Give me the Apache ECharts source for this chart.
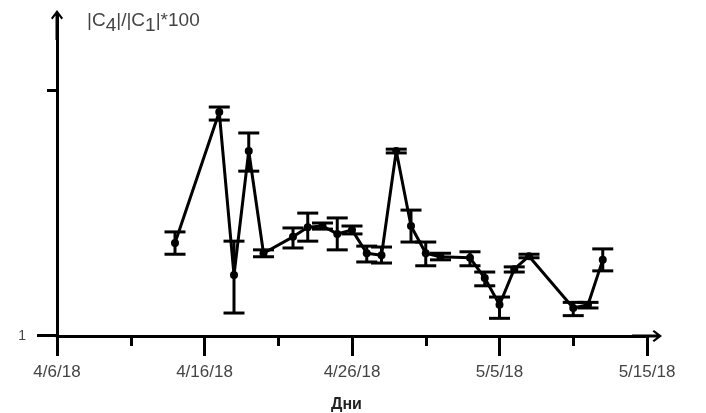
<!DOCTYPE html>
<html>
<head>
<meta charset="utf-8">
<script src="https://cdn.jsdelivr.net/npm/echarts@6/dist/echarts.min.js"></script>
<style>html,body{margin:0;padding:0;background:#fff}#c{width:706px;height:413px}</style>
</head>
<body>
<div id="c"></div>
<script>
// day number counted from 4/6/18 (day 0)
var days     = [8, 11, 12, 13, 14, 16, 17, 18, 19, 20, 21, 22, 23, 24, 25, 26, 28, 29, 30, 31, 32, 35, 36, 37];
var values   = [2.39, 8.14, 1.77, 5.65, 2.17, 2.53, 2.77, 2.80, 2.60, 2.70, 2.17, 2.13, 5.65, 2.80, 2.17, 2.10, 2.08, 1.72, 1.34, 1.87, 2.11, 1.30, 1.34, 2.04];
var errHigh  = [2.65, 8.53, 2.43, 6.69, 2.24, 2.75, 3.16, 2.88, 3.02, 2.80, 2.32, 2.30, 5.75, 3.25, 2.41, 2.17, 2.20, 1.82, 1.44, 1.91, 2.15, 1.37, 1.37, 2.26];
var errLow   = [2.15, 7.55, 1.24, 4.68, 2.10, 2.28, 2.43, 2.72, 2.24, 2.60, 2.00, 1.98, 5.55, 2.41, 1.93, 2.04, 1.93, 1.60, 1.18, 1.82, 2.08, 1.21, 1.30, 1.84];
var xTickLabels = ['4/6/18', '4/16/18', '4/26/18', '5/5/18', '5/15/18'];
var yTickLabels = ['1'];

var arrow = 'path://M6,0 L12,8 L10.5,9.5 L7.5,5.5 L7.5,30 L4.5,30 L4.5,5.5 L1.5,9.5 L0,8 Z';
var lineData = days.map(function (d, i) { return [d, values[i]]; });
var errData = days.map(function (d, i) { return [d, errLow[i], errHigh[i]]; });

var chart = echarts.init(document.getElementById('c'));
chart.setOption({
  animation: false,
  backgroundColor: '#fff',
  title: [
    {
      text: '|C{s|4}|/|C{s|1}|*100',
      left: 82, top: 2,
      textStyle: {
        fontFamily: 'Liberation Sans', fontSize: 19, fontWeight: 'normal', color: '#444',
        rich: { s: { fontFamily: 'Liberation Sans', fontSize: 19, color: '#444', padding: [9, 0, 0, 0] } }
      }
    },
    {
      text: 'Дни',
      left: 326, top: 392,
      textStyle: { fontFamily: 'Liberation Sans', fontSize: 16, fontWeight: 'bold', color: '#222' }
    }
  ],
  grid: { left: 57, right: 59, top: 16, bottom: 77, containLabel: false },
  xAxis: {
    type: 'value', min: 0, max: 40, interval: 10,
    axisLine: { show: true, lineStyle: { color: '#000', width: 3 }, symbol: ['none', arrow], symbolSize: [12, 30], symbolOffset: [0, 0] },
    axisTick: { show: true, length: 20, lineStyle: { color: '#000', width: 3 } },
    minorTick: { show: true, splitNumber: 2, length: 10, lineStyle: { color: '#000', width: 3 } },
    splitLine: { show: false },
    axisLabel: {
      margin: 28, fontFamily: 'Liberation Sans', fontSize: 17, color: '#444',
      formatter: function (v) { return xTickLabels[Math.round(v / 10)] || ''; }
    }
  },
  yAxis: [
    {
      type: 'log', logBase: 10, min: 1, max: 20,
      axisLine: { show: true, lineStyle: { color: '#000', width: 3 }, symbol: ['none', arrow], symbolSize: [12, 30], symbolOffset: [0, -9] },
      axisTick: { show: true, length: 10, customValues: [10], lineStyle: { color: '#000', width: 3 } },
      axisLabel: { show: false },
      splitLine: { show: false },
      minorTick: { show: false }
    },
    {
      type: 'log', logBase: 10, min: 1, max: 20, position: 'left',
      axisLine: { show: true, lineStyle: { color: '#000', width: 3 } },
      axisTick: { show: true, length: 20, customValues: [1.003], lineStyle: { color: '#000', width: 3 } },
      axisLabel: { show: true, customValues: [1], margin: 31, fontFamily: 'Liberation Sans', fontSize: 14, color: '#444',
        formatter: function (v) { return Math.abs(v - 1) < 1e-6 ? yTickLabels[0] : ''; } },
      splitLine: { show: false }
    }
  ],
  series: [
    {
      type: 'custom',
      xAxisIndex: 0, yAxisIndex: 0,
      data: errData,
      z: 2,
      renderItem: function (params, api) {
        var x = api.value(0);
        var lo = api.coord([x, api.value(1)]);
        var hi = api.coord([x, api.value(2)]);
        var hw = 10.5;
        var st = { stroke: '#000', lineWidth: 3 };
        return {
          type: 'group',
          children: [
            { type: 'line', shape: { x1: lo[0], y1: lo[1], x2: hi[0], y2: hi[1] }, style: st },
            { type: 'line', shape: { x1: hi[0] - hw, y1: hi[1], x2: hi[0] + hw, y2: hi[1] }, style: st },
            { type: 'line', shape: { x1: lo[0] - hw, y1: lo[1], x2: lo[0] + hw, y2: lo[1] }, style: st }
          ]
        };
      }
    },
    {
      type: 'line',
      xAxisIndex: 0, yAxisIndex: 0,
      data: lineData,
      z: 3,
      symbol: 'circle', symbolSize: 8,
      itemStyle: { color: '#000' },
      lineStyle: { color: '#000', width: 3 }
    }
  ]
});
</script>
</body>
</html>
